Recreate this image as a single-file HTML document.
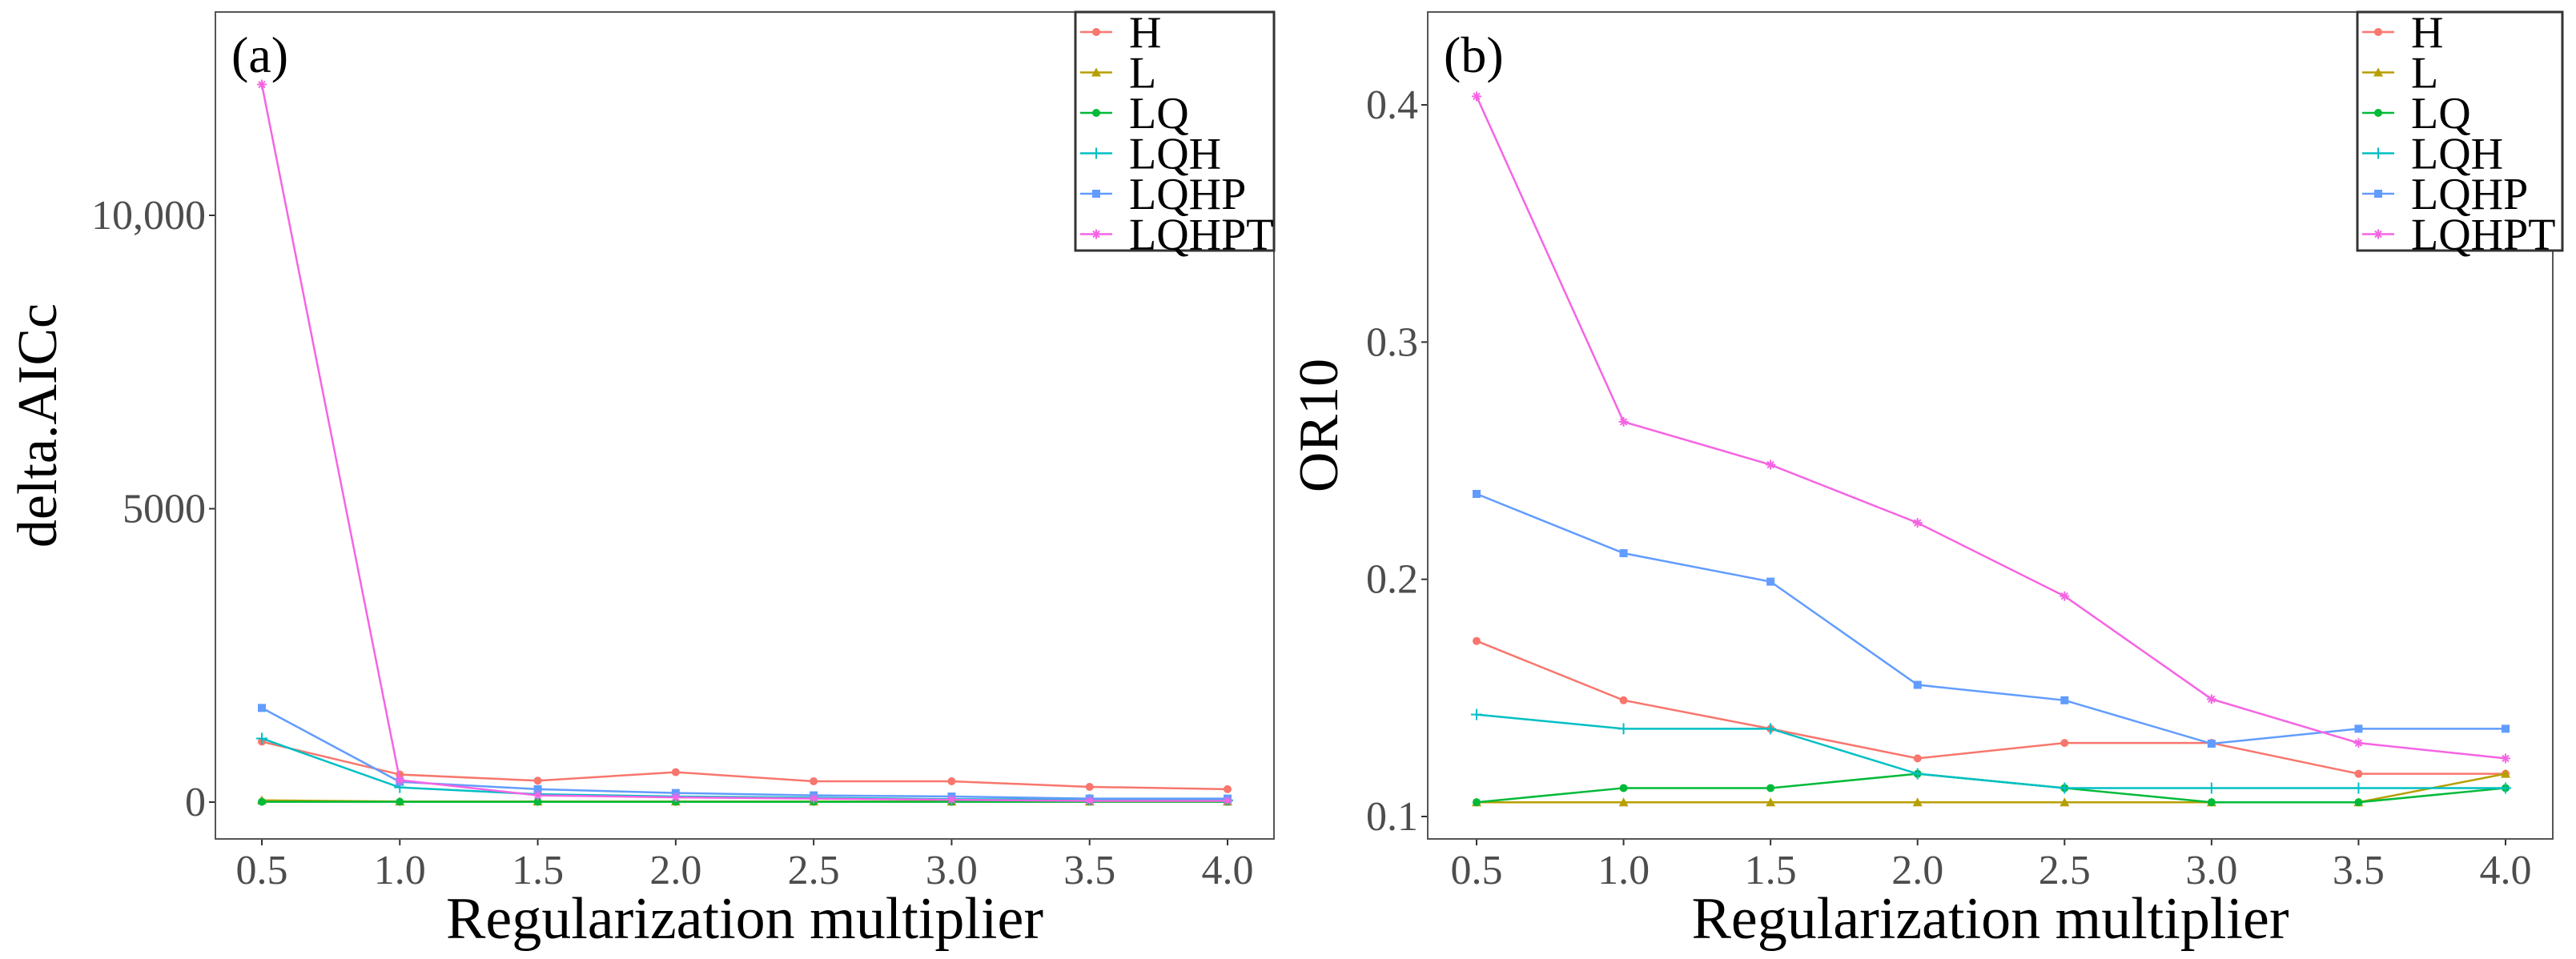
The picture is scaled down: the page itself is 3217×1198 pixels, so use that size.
<!DOCTYPE html>
<html><head><meta charset="utf-8"><style>
html,body{margin:0;padding:0;background:#fff;}
svg{display:block;font-family:"Liberation Serif",serif;}
</style></head><body>
<svg id="chart" width="3217" height="1198" viewBox="0 0 3217 1198" xmlns="http://www.w3.org/2000/svg"></svg>
<script>
const xCategories = [0.5, 1.0, 1.5, 2.0, 2.5, 3.0, 3.5, 4.0];
const seriesNames = ["H", "L", "LQ", "LQH", "LQHP", "LQHPT"];
const seriesColors = ["#F8766D", "#B79F00", "#00BA38", "#00BFC4", "#619CFF", "#F564E3"];
// Panel (a) delta.AICc
const aicH = [1030, 470, 365, 510, 355, 355, 260, 220];
const aicL = [30, 10, 10, 10, 10, 10, 10, 10];
const aicLQ = [5, 5, 5, 5, 5, 5, 5, 5];
const aicLQH = [1085, 250, 135, 95, 75, 50, 40, 30];
const aicLQHP = [1605, 345, 220, 155, 115, 95, 60, 60];
const aicLQHPT = [12230, 375, 115, 80, 60, 40, 20, 20];
const aicTicks = [0, 5000, 10000];
const aicTickLabels = ["0", "5000", "10,000"];
// Panel (b) OR10
const orH = [0.174, 0.149, 0.137, 0.1245, 0.131, 0.131, 0.118, 0.118];
const orL = [0.106, 0.106, 0.106, 0.106, 0.106, 0.106, 0.106, 0.118];
const orLQ = [0.106, 0.112, 0.112, 0.118, 0.112, 0.106, 0.106, 0.112];
const orLQH = [0.143, 0.137, 0.137, 0.118, 0.112, 0.112, 0.112, 0.112];
const orLQHP = [0.236, 0.211, 0.199, 0.1555, 0.149, 0.1307, 0.137, 0.137];
const orLQHPT = [0.4036, 0.2664, 0.2483, 0.2238, 0.1929, 0.1495, 0.131, 0.1245];
const orTicks = [0.1, 0.2, 0.3, 0.4];
const orTickLabels = ["0.1", "0.2", "0.3", "0.4"];
const xTickLabels = ["0.5", "1.0", "1.5", "2.0", "2.5", "3.0", "3.5", "4.0"];

const NS = "http://www.w3.org/2000/svg";
const svg = document.getElementById("chart");
function mk(tag, attrs, parent, text) {
  const e = document.createElementNS(NS, tag);
  for (const k in attrs) e.setAttribute(k, attrs[k]);
  if (text !== undefined) e.textContent = text;
  (parent || svg).appendChild(e);
  return e;
}
function marker(g, i, x, y, c) {
  let m;
  if (i === 0 || i === 2) { m = mk("circle", {cx:x, cy:y, r:5, fill:c}, g); }
  else if (i === 1) { m = mk("polygon", {points:`${x},${y-6} ${x-6},${y+5} ${x+6},${y+5}`, fill:c}, g); }
  else if (i === 3) { m = mk("path", {d:`M${x-7},${y}H${x+7}M${x},${y-7}V${y+7}`, stroke:c, "stroke-width":2}, g); }
  else if (i === 4) { m = mk("rect", {x:x-5, y:y-5, width:10, height:10, fill:c}, g); }
  else { m = mk("path", {d:`M${x-6},${y}H${x+6}M${x},${y-6}V${y+6}M${x-4},${y-4}L${x+4},${y+4}M${x-4},${y+4}L${x+4},${y-4}`, stroke:c, "stroke-width":2}, g); }
  return m;
}
function panel(p) {
  const g = mk("g", {}, svg);
  
  
  const xs = v => p.x0 + (v - 0.5) / 3.5 * (p.x1 - p.x0);
  const ys = v => p.yA + (v - p.vA) / (p.vB - p.vA) * (p.yB - p.yA);
  p.ticks.forEach((t, i) => {
    const y = ys(t);
    mk("line", {x1:p.L-8, x2:p.L, y1:y, y2:y, stroke:"#333", "stroke-width":2}, g);
    const tl = mk("text", {x:p.L-12, y:y+17, "text-anchor":"end", "font-size":52, fill:"#4d4d4d"}, g, p.tickLabels[i]);
    
    
  });
  xCategories.forEach((c, i) => {
    const x = xs(c);
    mk("line", {x1:x, x2:x, y1:p.B, y2:p.B+8, stroke:"#333", "stroke-width":2}, g);
    const tl = mk("text", {x:x, y:p.B+56, "text-anchor":"middle", "font-size":52, fill:"#4d4d4d"}, g, xTickLabels[i]);
    
    
  });
  p.series.forEach((vals, i) => {
    const sg = mk("g", {}, g);
    
    
    const pts = vals.map((v, j) => xs(xCategories[j]) + "," + ys(v)).join(" ");
    mk("polyline", {points:pts, fill:"none", stroke:seriesColors[i], "stroke-width":2.5}, sg);
    vals.forEach((v, j) => {
      const m = marker(sg, i, xs(xCategories[j]), ys(v), seriesColors[i]);
      
      
    });
  });
  const fr = mk("rect", {x:p.L, y:p.T, width:p.R-p.L, height:p.B-p.T, fill:"none", stroke:"#555", "stroke-width":2}, g);
  
  
  const pl = mk("text", {x:p.L+20, y:90, "font-size":64, fill:"#000"}, g, p.tag);
  
  
  const xt = mk("text", {x:(p.L+p.R)/2, y:1172, "text-anchor":"middle", "font-size":74, fill:"#000"}, g, "Regularization multiplier");
  
  
  const yt = mk("text", {x:0, y:0, transform:`translate(${p.ytx},${(p.T+p.B)/2}) rotate(-90)`, "text-anchor":"middle", "font-size":70, fill:"#000"}, g, p.ytitle);
  
  
  const lg = mk("g", {}, g);
  
  
  mk("rect", {x:p.lgx, y:15, width:p.lgw, height:298, fill:"#fff", stroke:"#333", "stroke-width":3}, lg);
  seriesNames.forEach((n, i) => {
    const y = 40 + i * 50.5;
    const e = mk("g", {}, lg);
    
    
    mk("line", {x1:p.lgx+6, x2:p.lgx+46, y1:y, y2:y, stroke:seriesColors[i], "stroke-width":2.5}, e);
    marker(e, i, p.lgx+26, y, seriesColors[i]);
    mk("text", {x:p.lgx+67, y:y+19, "font-size":56, fill:"#000"}, e, n);
  });
}
panel({name:"panel-a-delta-aicc", tag:"(a)", L:269, R:1591, T:15, B:1048, x0:327, x1:1533,
  vA:0, yA:1002, vB:10000, yB:269, ticks:aicTicks, tickLabels:aicTickLabels,
  series:[aicH, aicL, aicLQ, aicLQH, aicLQHP, aicLQHPT], ytitle:"delta.AICc", ytx:70, lgx:1343, lgw:248});
panel({name:"panel-b-or10", tag:"(b)", L:1783, R:3188, T:15, B:1048, x0:1844, x1:3129,
  vA:0.1, yA:1020, vB:0.4, yB:131, ticks:orTicks, tickLabels:orTickLabels,
  series:[orH, orL, orLQ, orLQH, orLQHP, orLQHPT], ytitle:"OR10", ytx:1670, lgx:2944, lgw:256});
</script>
</body></html>
